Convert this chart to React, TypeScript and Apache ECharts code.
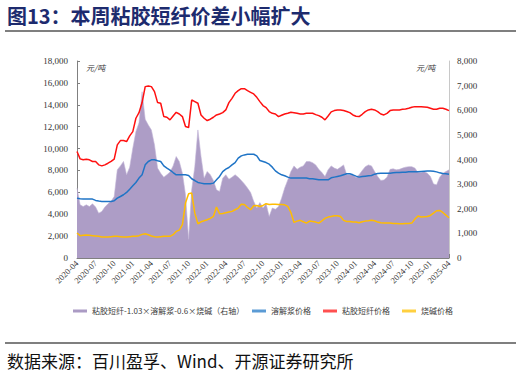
import React, { useEffect, useRef } from "react";
import * as echarts from "echarts";

// Half-monthly samples from 2020-04-01 to 2025-04-01 (121 points)
const viscosePrice = [
  9730, 9060, 8970, 9030, 8970, 8820, 8820, 8510, 8420, 8510,
  8660, 8820, 9030, 10340, 10730, 10730, 10640, 11160, 11550, 12770,
  13280, 14200, 15660, 15720, 15660, 15200, 14200, 14140, 12920, 12860,
  12620, 12980, 13310, 13160, 12920, 12010, 11920, 14440, 14290, 14140,
  13070, 12770, 12560, 12680, 12860, 13070, 13160, 13280, 13530, 14200,
  14590, 15050, 15290, 15470, 15470, 15290, 15140, 14990, 14680, 14290,
  13930, 13740, 13380, 13220, 13160, 12920, 13040, 13160, 13220, 13310,
  13280, 13220, 13160, 13160, 13220, 13220, 13220, 13100, 13010, 12860,
  12620, 12980, 13350, 13470, 13530, 13530, 13470, 13380, 13280, 13070,
  12950, 12920, 13130, 13380, 13530, 13590, 13530, 13380, 13160, 13070,
  13220, 13470, 13530, 13530, 13530, 13590, 13620, 13680, 13770, 13830,
  13830, 13830, 13800, 13770, 13680, 13590, 13590, 13680, 13680, 13590,
  13470,
];

const pulpPrice = [
  5470, 5410, 5380, 5380, 5380, 5380, 5260, 5200, 5170, 5170,
  5170, 5170, 5230, 5470, 5620, 5780, 5990, 6290, 6600, 6900,
  7300, 7600, 8510, 8820, 8970, 8970, 8880, 8820, 8420, 8210,
  8030, 7810, 7600, 7600, 7600, 7600, 7540, 7240, 7080, 6900,
  6840, 6780, 6780, 6780, 6840, 7140, 7450, 7900, 8120, 8270,
  8510, 8720, 9120, 9330, 9420, 9480, 9480, 9480, 9330, 8910,
  8820, 8720, 8570, 8300, 7960, 7750, 7600, 7510, 7390, 7300,
  7300, 7300, 7300, 7300, 7300, 7240, 7240, 7200, 7140, 7140,
  7140, 7140, 7330, 7390, 7450, 7510, 7600, 7690, 7690, 7600,
  7480, 7390, 7450, 7480, 7510, 7540, 7660, 7720, 7750, 7750,
  7750, 7750, 7780, 7810, 7810, 7840, 7840, 7870, 7870, 7870,
  7870, 7900, 7930, 7960, 7960, 7930, 7870, 7780, 7720, 7690,
  7660,
];

const causticPrice = [
  2280, 2040, 2070, 2100, 2070, 2040, 2010, 1980, 1920, 1920,
  1920, 1950, 1980, 1980, 1950, 1920, 1920, 1950, 1980, 1980,
  2040, 2160, 2220, 2130, 2010, 1950, 1920, 1950, 1980, 1980,
  1980, 2130, 2430, 2550, 3040, 5020, 5870, 5930, 4100, 3130,
  3310, 3400, 3500, 3620, 3800, 4650, 4040, 4070, 4130, 4200,
  4260, 4410, 4560, 4920, 4890, 4620, 4410, 4770, 4800, 4710,
  4800, 4960, 4890, 4920, 4920, 4890, 4890, 4860, 4710, 4160,
  3250, 3370, 3440, 3310, 3190, 3370, 3340, 3280, 3190, 3400,
  3620, 3740, 3800, 3860, 3860, 3800, 3440, 3340, 3340, 3280,
  3280, 3220, 3310, 3370, 3400, 3440, 3400, 3280, 3220, 3190,
  3190, 3190, 3160, 3160, 3130, 3130, 3160, 3160, 3190, 3560,
  3830, 3740, 3770, 3800, 3890, 4100, 4320, 4350, 4160, 3920,
  3680,
];

const spreadValue = [
  2840, 2160, 2090, 2160, 2090, 2200, 2070, 1820, 1890, 2070,
  2200, 2300, 2500, 3580, 3740, 3920, 3380, 3690, 4460, 5130,
  5490, 6750, 5630, 5400, 5200, 4590, 3650, 3440, 3280, 3380,
  3490, 3740, 4120, 3920, 3440, 2570, 760, 2770, 3710, 5200,
  4120, 3240, 3510, 3380, 3150, 2770, 2700, 3240, 3380, 3200,
  3280, 3380, 3280, 3150, 3010, 2840, 2660, 2300, 2030, 2250,
  2030, 2200, 1690, 2030, 1980, 2090, 2430, 2840, 3170, 3510,
  3740, 3600, 3690, 3740, 3920, 3920, 3870, 3780, 3600, 3470,
  3310, 3580, 3740, 3650, 3600, 3690, 3780, 3380, 3380, 3380,
  3270, 3380, 3550, 3710, 3780, 3740, 3510, 3310, 3150, 3170,
  3280, 3600, 3620, 3580, 3600, 3650, 3690, 3710, 3710, 3650,
  3470, 3470, 3510, 3440, 3310, 3010, 2970, 3280, 3440, 3510,
  3580,
];

const xTickLabels = [
  "2020-04", "2020-07", "2020-10", "2021-01", "2021-04", "2021-07", "2021-10",
  "2022-01", "2022-04", "2022-07", "2022-10", "2023-01", "2023-04", "2023-07",
  "2023-10", "2024-01", "2024-04", "2024-07", "2024-10", "2025-01", "2025-04",
];

const seriesNames = [
  "粘胶短纤-1.03×溶解浆-0.6×烧碱（右轴）",
  "溶解浆价格",
  "粘胶短纤价格",
  "烧碱价格",
];

const categories: string[] = [];
for (let i = 0; i < viscosePrice.length; i++) {
  const mIdx = 3 + Math.floor(i / 2);
  const y = 2020 + Math.floor(mIdx / 12);
  const mo = (mIdx % 12) + 1;
  categories.push(`${y}-${String(mo).padStart(2, "0")}-${i % 2 === 0 ? "01" : "15"}`);
}

const SERIF = "'Liberation Serif', 'Times New Roman', serif";
const CJK = "'Noto Sans CJK SC', 'Noto Sans', sans-serif";

export default function App() {
  const ref = useRef<HTMLDivElement>(null);
  useEffect(() => {
    if (!ref.current) return;
    const chart = echarts.init(ref.current, undefined, { renderer: "svg" });
    const isTick = (idx: number) => {
      const c = categories[idx];
      return c.endsWith("-01") && xTickLabels.includes(c.slice(0, 7));
    };
    const legendBase = {
      orient: "horizontal" as const,
      top: 307,
      padding: 0,
      itemWidth: 14,
      itemHeight: 3,
      icon: "rect",
      textStyle: { fontFamily: CJK, fontSize: 8, color: "#404040" },
    };
    const option: any = {
      animation: false,
      backgroundColor: "#ffffff",
      grid: { left: 77, right: 72, top: 61, bottom: 115 },
      legend: [
        { ...legendBase, left: 73, data: [{ name: seriesNames[0], itemStyle: { color: "#ab9bc4" } }] },
        { ...legendBase, left: 252, data: [{ name: seriesNames[1], itemStyle: { color: "#5b9bd5" } }] },
        { ...legendBase, left: 323, data: [{ name: seriesNames[2], itemStyle: { color: "#ff5050" } }] },
        { ...legendBase, left: 402, data: [{ name: seriesNames[3], itemStyle: { color: "#ffd040" } }] },
      ],
      xAxis: {
        type: "category",
        data: categories,
        boundaryGap: false,
        axisLine: { lineStyle: { color: "#808080", width: 1 } },
        axisTick: {
          inside: true,
          length: 4,
          interval: (idx: number) => isTick(idx),
          lineStyle: { color: "#808080" },
        },
        axisLabel: {
          interval: (idx: number) => isTick(idx),
          rotate: 45,
          fontFamily: SERIF,
          fontSize: 8.5,
          color: "#333",
          margin: 4,
          formatter: (v: string) => v.slice(0, 7),
        },
        splitLine: { show: false },
      },
      yAxis: [
        {
          type: "value",
          min: 0,
          max: 18000,
          interval: 2000,
          axisLine: { show: true, lineStyle: { color: "#808080" } },
          axisTick: { show: true, inside: true, length: 3, lineStyle: { color: "#808080" } },
          splitLine: { show: false },
          axisLabel: {
            fontFamily: SERIF,
            fontSize: 9,
            color: "#333",
            margin: 9,
            formatter: (v: number) => v.toLocaleString("en-US"),
          },
        },
        {
          type: "value",
          min: 0,
          max: 8000,
          interval: 1000,
          position: "right",
          axisLine: { show: true, lineStyle: { color: "#c8c8c8" } },
          axisTick: { show: false },
          splitLine: { show: false },
          axisLabel: {
            fontFamily: SERIF,
            fontSize: 9,
            color: "#333",
            margin: 8,
            formatter: (v: number) => v.toLocaleString("en-US"),
          },
        },
      ],
      series: [
        {
          name: seriesNames[0],
          type: "line",
          yAxisIndex: 1,
          data: spreadValue,
          symbol: "none",
          lineStyle: { width: 0.6, color: "#c2b6d6" },
          itemStyle: { color: "#ab9bc4" },
          areaStyle: { color: "#ad9dc6", opacity: 1 },
          z: 1,
        },
        {
          name: seriesNames[1],
          type: "line",
          yAxisIndex: 0,
          data: pulpPrice,
          symbol: "none",
          lineStyle: { width: 1.5, color: "#1f74c6" },
          itemStyle: { color: "#1f74c6" },
          z: 3,
        },
        {
          name: seriesNames[2],
          type: "line",
          yAxisIndex: 0,
          data: viscosePrice,
          symbol: "none",
          lineStyle: { width: 1.5, color: "#ff1010" },
          itemStyle: { color: "#ff1010" },
          z: 3,
        },
        {
          name: seriesNames[3],
          type: "line",
          yAxisIndex: 0,
          data: causticPrice,
          symbol: "none",
          lineStyle: { width: 1.5, color: "#ffbc00" },
          itemStyle: { color: "#ffbc00" },
          z: 3,
        },
      ],
      graphic: [
        {
          type: "text",
          x: 7,
          y: 5,
          style: {
            text: "图13：本周粘胶短纤价差小幅扩大",
            fontFamily: CJK,
            fontWeight: "bold",
            fontSize: 20,
            fill: "#1d2b6e",
          },
        },
        { type: "rect", shape: { x: 5, y: 30, width: 511, height: 2 }, style: { fill: "#7f7f7f" } },
        { type: "rect", shape: { x: 5, y: 342, width: 511, height: 2 }, style: { fill: "#7f7f7f" } },
        {
          type: "text",
          x: 7,
          y: 352,
          style: {
            text: "数据来源：百川盈孚、Wind、开源证券研究所",
            fontFamily: CJK,
            fontSize: 17,
            fill: "#111",
          },
        },
        {
          type: "text",
          x: 86,
          y: 63,
          style: { text: "元/吨", fontFamily: CJK, fontSize: 8, fontStyle: "italic", fill: "#333" },
        },
        {
          type: "text",
          x: 416,
          y: 63,
          style: { text: "元/吨", fontFamily: CJK, fontSize: 8, fontStyle: "italic", fill: "#333" },
        },
      ],
    };
    chart.setOption(option);
    return () => chart.dispose();
  }, []);
  return (
    <div
      ref={ref}
      style={{ position: "absolute", left: 0, top: 0, width: 521, height: 373 }}
    />
  );
}
